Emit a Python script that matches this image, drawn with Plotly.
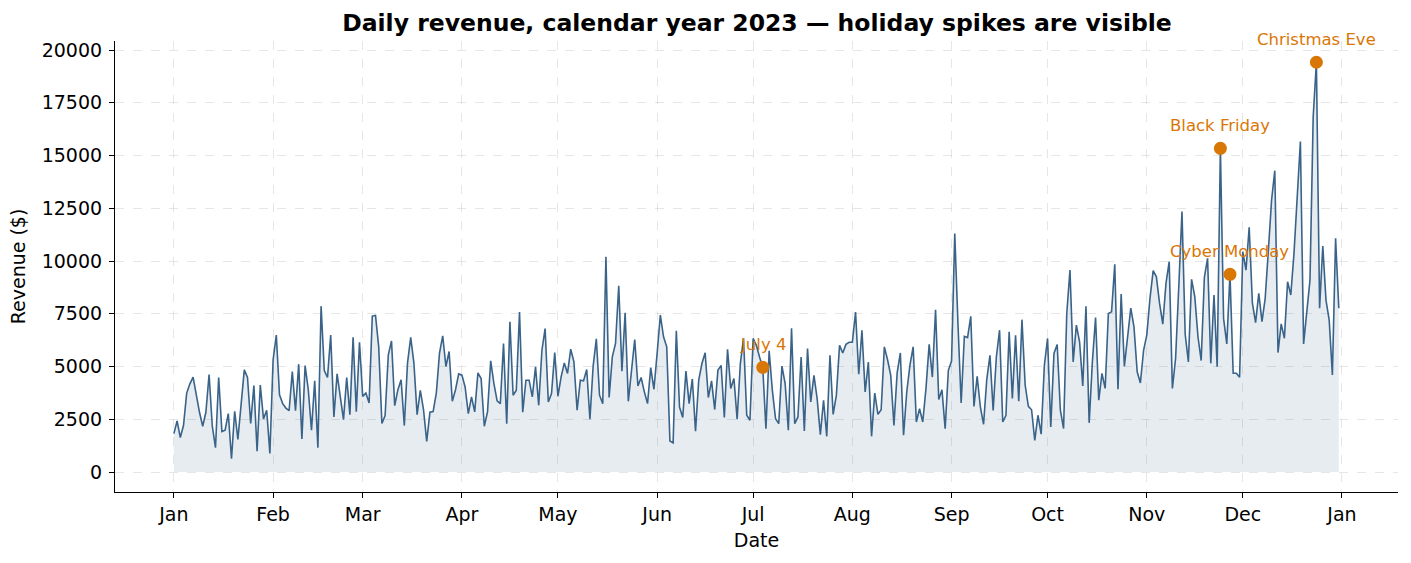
import pandas as pd
import plotly.graph_objects as go

start_date = "2023-01-01"
revenue = [
    1820, 2420, 1635, 2200, 3740, 4180, 4500, 3585, 2830, 2170,
    2830, 4620, 2170, 1150, 4480, 1920, 1980, 2770, 630, 2880,
    1540, 3190, 4840, 4480, 2300, 4100, 990, 4120, 2515, 2925,
    880, 5310, 6490, 3660, 3240, 3030, 2910, 4760, 2910, 5110,
    1570, 5045, 3900, 1980, 4320, 1150, 7860, 4810, 4480, 6490,
    2610, 4650, 3585, 2480, 4480, 2720, 6380, 2860, 6150, 3585,
    3740, 3270, 7390, 7420, 5940, 2300, 2670, 5550, 6210, 3145,
    3900, 4370, 2200, 5160, 6380, 5160, 2720, 3870, 2960, 1450,
    2830, 2860, 3740, 5630, 6450, 5000, 5710, 3350, 3900, 4650,
    4590, 4030, 2770, 3560, 2850, 4700, 4430, 2170, 2850, 5270,
    4190, 3370, 3240, 6090, 2290, 7120, 3640, 3880, 7580, 2830,
    4350, 4350, 3560, 4980, 3160, 5770, 6800, 3320, 3720, 5660,
    3590, 4510, 5170, 4670, 5820, 5220, 2930, 4350, 4320, 4860,
    2500, 5010, 6310, 3640, 3240, 10200, 3530, 5460, 6090, 8830,
    4780, 7550, 3350, 4980, 6280, 4080, 4480, 3800, 3240, 4950,
    3920, 5620, 7440, 6410, 5930, 1470, 1380, 6690, 3080, 2580,
    4780, 3240, 4410, 1930, 4350, 5140, 5650, 3530, 4320, 2960,
    4830, 5050, 2580, 5810, 3960, 4430, 2500, 5140, 6330, 2690,
    2450, 6330, 6000, 5450, 4960, 2050, 5740, 3870, 2530, 2290,
    5020, 4190, 1980, 6810, 2290, 2610, 5450, 1940, 5850, 3320,
    4580, 3480, 1770, 3400, 1690, 5530, 2730, 3630, 6000, 5640,
    6050, 6150, 6150, 7580, 4630, 6720, 3790, 5210, 1690, 3740,
    2730, 2950, 5930, 5320, 4580, 2210, 4700, 5640, 1740, 3790,
    5060, 5930, 2370, 3000, 2370, 3950, 6050, 4500, 7690, 3440,
    3900, 2050, 4820, 5260, 11300, 7030, 3270, 6430, 6370, 7380,
    3110, 4530, 3080, 2260, 4380, 5530, 2920, 5450, 6720, 2370,
    2690, 6640, 3480, 6480, 3350, 7220, 4110, 3110, 2950, 1500,
    2690, 1790, 5060, 6330, 2140, 5620, 6040, 2930, 2060, 7510,
    9570, 5220, 6960, 6170, 4080, 7860, 2330, 5220, 7320, 3400,
    4670, 3960, 7510, 7590, 9840, 3920, 8430, 5010, 6280, 7770,
    6880, 4750, 4220, 5770, 6490, 8230, 9540, 9250, 7990, 7010,
    8940, 9970, 3960, 5380, 8780, 12340, 6530, 5220, 9130, 8310,
    6410, 5280, 9230, 10130, 5150, 8390, 4990, 15340, 7280, 6070,
    9370, 4680, 4680, 4490, 10440, 9570, 11600, 8000, 7080, 8470,
    7130, 8230, 10520, 12890, 14280, 5660, 7020, 6340, 9020, 8390,
    10360, 13050, 15660, 6070, 7600, 9100, 16840, 19420, 7760, 10710,
    8150, 7200, 4600, 11080, 7760,
]
dates = pd.date_range(start_date, periods=len(revenue), freq="D")

holiday_dates = ["2023-07-04", "2023-11-24", "2023-11-27", "2023-12-24"]
holiday_labels = ["July 4", "Black Friday", "Cyber Monday", "Christmas Eve"]
rev_by_date = dict(zip(dates.strftime("%Y-%m-%d"), revenue))
holiday_values = [rev_by_date[d] for d in holiday_dates]

month_ticks = pd.date_range("2023-01-01", "2024-01-01", freq="MS")
month_labels = [d.strftime("%b") for d in month_ticks]
y_ticks = list(range(0, 20001, 2500))

LINE = "#3a6389"
ORANGE = "#d97706"
FONT = "DejaVu Sans"
TICK_SIZE = 19

fig = go.Figure()
fig.add_trace(go.Scatter(
    x=dates, y=revenue, mode="lines",
    line=dict(color=LINE, width=1.6),
    fill="tozeroy", fillcolor="rgba(58,99,137,0.12)",
    hoverinfo="skip", showlegend=False,
))
fig.add_trace(go.Scatter(
    x=pd.to_datetime(holiday_dates), y=holiday_values, mode="markers",
    marker=dict(color=ORANGE, size=13, line=dict(width=0)),
    showlegend=False,
))
for d, v, lab in zip(holiday_dates, holiday_values, holiday_labels):
    fig.add_annotation(x=d, y=v, text=lab, showarrow=False, yshift=23,
                       font=dict(family=FONT, size=16.5, color=ORANGE))

x0 = pd.Timestamp("2023-01-01") - pd.Timedelta(days=18.4)
x1 = pd.Timestamp("2023-01-01") + pd.Timedelta(days=382.5)

fig.update_layout(
    width=1411, height=563,
    margin=dict(l=115, r=13, t=41, b=71),
    paper_bgcolor="white", plot_bgcolor="white",
    font=dict(family=FONT, size=TICK_SIZE, color="black"),
    title=dict(text="<b>Daily revenue, calendar year 2023 — holiday spikes are visible</b>",
               x=757 / 1411, xanchor="center", y=1 - 23 / 563, yanchor="middle",
               font=dict(family=FONT, size=23.5, color="black")),
    xaxis=dict(
        type="date", range=[x0, x1],
        tickmode="array", tickvals=month_ticks, ticktext=month_labels,
        showgrid=True, gridcolor="rgba(200,200,200,0.45)", griddash="dash", gridwidth=1,
        showline=True, linecolor="black", linewidth=1.2,
        ticks="outside", ticklen=5, tickcolor="black", tickwidth=1,
        tickfont=dict(family=FONT, size=TICK_SIZE),
        title=dict(text="Date", font=dict(family=FONT, size=TICK_SIZE), standoff=9),
        zeroline=False,
    ),
    yaxis=dict(
        range=[-948, 20427],
        tickmode="array", tickvals=y_ticks, ticktext=[str(t) for t in y_ticks],
        showgrid=True, gridcolor="rgba(200,200,200,0.45)", griddash="dash", gridwidth=1,
        showline=True, linecolor="black", linewidth=1.2,
        ticks="outside", ticklen=5, tickcolor="black", tickwidth=1,
        tickfont=dict(family=FONT, size=TICK_SIZE),
        ticklabelstandoff=3,
        title=dict(text="Revenue ($)", font=dict(family=FONT, size=TICK_SIZE), standoff=10),
        zeroline=False,
    ),
)

fig.write_html("out.html")
